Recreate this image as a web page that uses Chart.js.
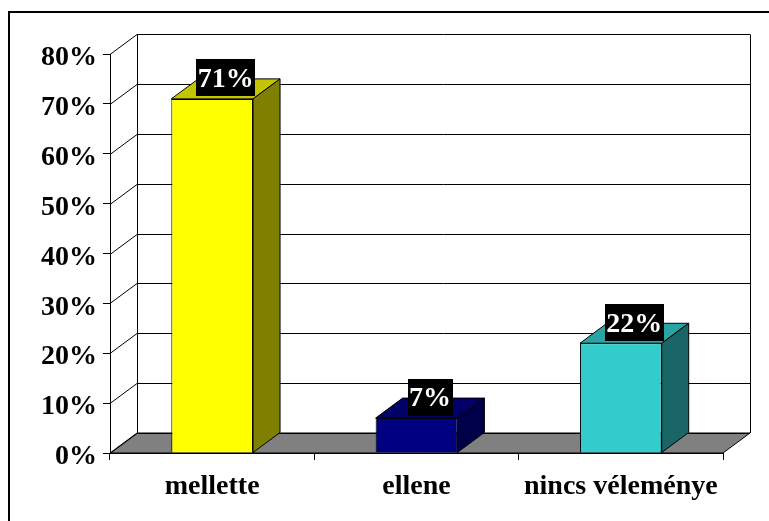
<!DOCTYPE html>
<html>
<head>
<meta charset="utf-8">
<script src="https://cdn.jsdelivr.net/npm/chart.js"></script>
<style>
  html, body { margin: 0; padding: 0; background: #fff; }
  #wrap { width: 769px; height: 521px; position: relative; }
</style>
</head>
<body>
<div id="wrap"><canvas id="c"></canvas></div>
<script>
const categories = ['mellette', 'ellene', 'nincs véleménye'];
const values = [71, 7, 22];
const yTicks = [0, 10, 20, 30, 40, 50, 60, 70, 80];

const frontColors = ['#ffff00', '#000080', '#33cccc'];
const topColors = ['#c4c400', '#000066', '#2aa3a3'];
const sideColors = ['#808000', '#00004a', '#1a6666'];

const FONT = '"Liberation Serif", "Times New Roman", serif';
const DX = 27, DY = -20; // 3D depth offset

const threeD = {
  id: 'threeD',
  beforeDatasetsDraw(chart) {
    const { ctx, chartArea: a, scales: { x, y } } = chart;
    const y0 = y.getPixelForValue(0);
    ctx.save();
    ctx.lineWidth = 1;
    ctx.strokeStyle = '#000';
    // floor
    ctx.fillStyle = '#808080';
    ctx.beginPath();
    ctx.moveTo(a.left, y0);
    ctx.lineTo(a.right, y0);
    ctx.lineTo(a.right + DX, y0 + DY);
    ctx.lineTo(a.left + DX, y0 + DY);
    ctx.closePath();
    ctx.fill();
    ctx.stroke();
    // back wall grid + side diagonals
    yTicks.forEach((v) => {
      const py = Math.round(y.getPixelForValue(v)) + 0.5;
      ctx.beginPath();
      ctx.moveTo(a.left, py);
      ctx.lineTo(a.left + DX, py + DY);
      ctx.lineTo(a.right + DX, py + DY);
      ctx.stroke();
    });
    const top = Math.round(y.getPixelForValue(y.max)) + 0.5 + DY;
    ctx.beginPath();
    ctx.moveTo(Math.round(a.left + DX) + 0.5, top);
    ctx.lineTo(Math.round(a.left + DX) + 0.5, y0 + DY);
    ctx.moveTo(Math.round(a.right + DX) + 0.5, top);
    ctx.lineTo(Math.round(a.right + DX) + 0.5, y0 + DY);
    ctx.stroke();
    ctx.restore();
  },
  afterDatasetsDraw(chart) {
    const { ctx } = chart;
    const meta = chart.getDatasetMeta(0);
    ctx.save();
    ctx.lineWidth = 1;
    ctx.strokeStyle = '#000';
    meta.data.forEach((bar, i) => {
      const { x, y, width, base } = bar.getProps(['x', 'y', 'width', 'base'], true);
      const l = x - width / 2, r = x + width / 2;
      // top face
      ctx.fillStyle = topColors[i];
      ctx.beginPath();
      ctx.moveTo(l, y); ctx.lineTo(r, y); ctx.lineTo(r + DX, y + DY); ctx.lineTo(l + DX, y + DY);
      ctx.closePath(); ctx.fill(); ctx.stroke();
      // side face
      ctx.fillStyle = sideColors[i];
      ctx.beginPath();
      ctx.moveTo(r, y); ctx.lineTo(r + DX, y + DY); ctx.lineTo(r + DX, base + DY); ctx.lineTo(r, base);
      ctx.closePath(); ctx.fill(); ctx.stroke();
    });
    // value labels
    ctx.font = 'bold 28px ' + FONT;
    ctx.textAlign = 'center';
    ctx.textBaseline = 'middle';
    meta.data.forEach((bar, i) => {
      const { x, y } = bar.getProps(['x', 'y'], true);
      const txt = values[i] + '%';
      const w = ctx.measureText(txt).width + 3;
      const cx = x + DX / 2, cy = y - 21;
      ctx.fillStyle = '#000';
      ctx.fillRect(Math.round(cx - w / 2), Math.round(cy - 18.5), Math.round(w), 37);
      ctx.fillStyle = '#fff';
      ctx.fillText(txt, cx, cy + 2);
    });
    ctx.restore();
  },
  afterDraw(chart) {
    const { ctx } = chart;
    ctx.save();
    ctx.strokeStyle = '#000';
    ctx.lineWidth = 2;
    ctx.beginPath();
    ctx.moveTo(9, 521); ctx.lineTo(9, 12); ctx.lineTo(769, 12);
    ctx.stroke();
    ctx.restore();
  }
};

new Chart(document.getElementById('c'), {
  type: 'bar',
  data: {
    labels: categories,
    datasets: [{
      data: values,
      backgroundColor: frontColors,
      borderColor: '#000',
      borderWidth: 1,
      barPercentage: 0.4,
      categoryPercentage: 1.0,
    }],
  },
  options: {
    responsive: true,
    maintainAspectRatio: false,
    animation: false,
    layout: { padding: { left: 10, right: 46, top: 54, bottom: 8 } },
    plugins: { legend: { display: false }, tooltip: { enabled: false } },
    scales: {
      x: {
        afterFit: (s) => { s.height = 60; },
        grid: { drawOnChartArea: false, tickLength: 7, color: '#000' },
        border: { color: '#000', width: 1 },
        ticks: { color: '#000', padding: 10, font: { family: FONT, size: 28, weight: 'bold' } },
      },
      y: {
        min: 0,
        max: 80,
        afterFit: (s) => { s.width = 100; },
        afterBuildTicks: (s) => { s.ticks = yTicks.map((v) => ({ value: v })); },
        grid: { drawOnChartArea: false, tickLength: 7, color: '#000' },
        border: { color: '#000', width: 1 },
        ticks: {
          color: '#000', padding: 6, labelOffset: 4,
          font: { family: FONT, size: 28, weight: 'bold' },
          callback: (v) => v + '%',
        },
      },
    },
  },
  plugins: [threeD],
});
</script>
</body>
</html>
